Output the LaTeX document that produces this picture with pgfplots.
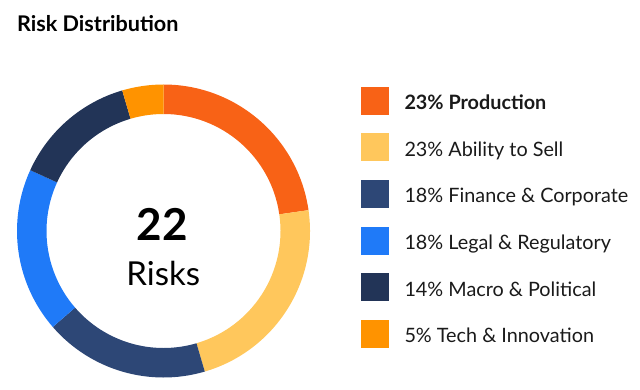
\documentclass[border=0pt]{standalone}
\usepackage{pgfplots}
\pgfplotsset{compat=1.18}
\usepackage{pgfplotstable}
\usepackage{fontspec}
\setmainfont{Lato}
\definecolor{cProd}{HTML}{F86216}
\definecolor{cSell}{HTML}{FFC75C}
\definecolor{cFin}{HTML}{2D4776}
\definecolor{cLegal}{HTML}{1F7AF8}
\definecolor{cMacro}{HTML}{223457}
\definecolor{cTech}{HTML}{FF9300}
\definecolor{txt}{HTML}{1A1A1A}

\pgfplotstableread{
category count pct
Production 5 23
AbilityToSell 5 23
FinanceCorporate 4 18
LegalRegulatory 4 18
MacroPolitical 3 14
TechInnovation 1 5
}\riskdata

\begin{document}
\begin{tikzpicture}
\begin{axis}[
  x=1bp, y=1bp, scale only axis, hide axis, clip=false,
  xmin=0, xmax=640, ymin=0, ymax=389,
]
\path (axis cs:0,0) rectangle (axis cs:640,389);
\xdef\cum{0}
\foreach \i/\col/\lab in {0/cProd/{\bfseries 23\% Production},1/cSell/{23\% Ability to Sell},2/cFin/{18\% Finance \& Corporate},3/cLegal/{18\% Legal \& Regulatory},4/cMacro/{14\% Macro \& Political},5/cTech/{5\% Tech \& Innovation}}{
  \pgfplotstablegetelem{\i}{count}\of\riskdata
  \pgfmathsetmacro\a{90-\cum/22*360}
  \pgfmathsetmacro\b{90-(\cum+\pgfplotsretval)/22*360}
  \pgfmathsetmacro\newcum{\cum+\pgfplotsretval}
  \xdef\cum{\newcum}
  \pgfmathsetmacro\yc{389-(100.5+46.7*\i)}
  \pgfmathsetmacro\ylo{\yc-14}
  \pgfmathsetmacro\yhi{\yc+14}
  \pgfmathsetmacro\yb{\yc-8.8}
  \edef\temp{\noexpand\fill[\col] (axis cs:163.5,158) ++(\a:146.5bp) arc[start angle=\a,end angle=\b,radius=146.5bp] -- ++({\b+180}:29.5bp) arc[start angle=\b,end angle=\a,radius=117bp] -- cycle;
    \noexpand\fill[\col] (axis cs:361,\ylo) rectangle (axis cs:389,\yhi);
    \noexpand\node[anchor=base west, inner sep=0pt, text=txt, font=\noexpand\fontsize{19.8bp}{24bp}\noexpand\selectfont] at (axis cs:404.3,\yb) {\unexpanded\expandafter{\lab}};}
  \temp
}

\node[anchor=base west, inner sep=0pt, font=\fontsize{21.6bp}{26bp}\selectfont\bfseries] at (axis cs:17,357.3) {Risk Distribution};
\node[anchor=base, inner sep=0pt, font=\fontsize{44bp}{50bp}\selectfont\bfseries] at (axis cs:162.5,148.3) {22};
\node[anchor=base, inner sep=0pt, font=\fontsize{33bp}{38bp}\selectfont] at (axis cs:163.3,104) {Risks};
\end{axis}
\end{tikzpicture}
\end{document}
